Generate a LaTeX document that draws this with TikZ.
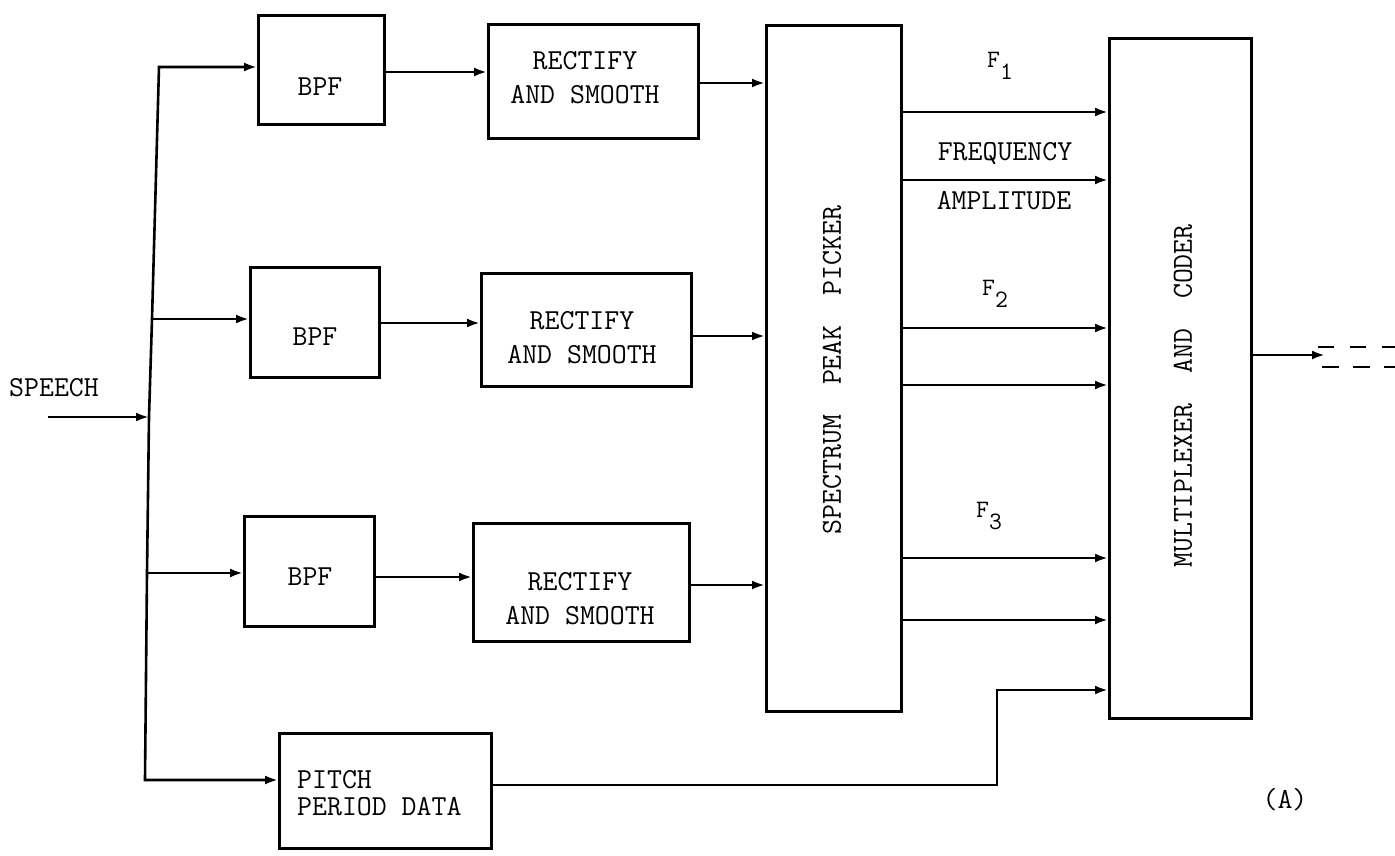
\documentclass[tikz,border=0pt]{standalone}
\usetikzlibrary{arrows.meta}
\begin{document}
\begin{tikzpicture}[x=1pt,y=-1pt,
  box/.style={draw, line width=2.6pt, inner sep=0pt, anchor=north west},
  conn/.style={line width=2.6pt, line join=miter, -{Latex[length=13pt,width=9pt]}},
  wire/.style={line width=2.6pt, line join=miter},
  lbl/.style={font=\fontsize{29}{34}\selectfont\ttfamily, inner sep=0pt},
  sub/.style={font=\fontsize{25}{30}\selectfont\ttfamily, inner sep=0pt},
  ]
\useasboundingbox (0,0) rectangle (1395,855);

% boxes
\node[box, minimum width=126pt, minimum height=109pt] (bpf1) at (257,14) {};
\node[box, minimum width=129pt, minimum height=110pt] (bpf2) at (249,266) {};
\node[box, minimum width=130pt, minimum height=110pt] (bpf3) at (243,515) {};
\node[box, minimum width=210pt, minimum height=114pt] (rect1) at (487,23) {};
\node[box, minimum width=210pt, minimum height=113pt] (rect2) at (480,272) {};
\node[box, minimum width=216pt, minimum height=118pt] (rect3) at (472,522) {};
\node[box, minimum width=135pt, minimum height=686pt] (spp) at (765,24) {};
\node[box, minimum width=142pt, minimum height=680pt] (mux) at (1108,37) {};
\node[box, minimum width=212pt, minimum height=115pt] (pitch) at (278,732) {};

% texts
\node[lbl] (tb1) at (320,87) {BPF};
\node[lbl] (tb2) at (315,337) {BPF};
\node[lbl] (tb3) at (310,577) {BPF};
\node[lbl, align=center] (tr1) at (585,78) {RECTIFY\\AND SMOOTH};
\node[lbl, align=center] (tr2) at (582,338) {RECTIFY\\AND SMOOTH};
\node[lbl, align=center] (tr3) at (580,599) {RECTIFY\\AND SMOOTH};
\node[lbl, rotate=90] (tspp) at (832,370) {SPECTRUM\ \ PEAK\ \ PICKER};
\node[lbl, rotate=90] (tmux) at (1183,396) {MULTIPLEXER\ \ AND\ \ CODER};
\node[lbl, align=left, anchor=west, font=\fontsize{29}{27}\selectfont\ttfamily] (tpitch) at (297,793) {PITCH\\PERIOD DATA};
\node[lbl] (tspeech) at (54,388) {SPEECH};
\node[lbl] (tfreq) at (1005,153) {FREQUENCY};
\node[lbl] (tamp) at (1004,201) {AMPLITUDE};
\node[sub] (tf1) at (1000,66) {F\raisebox{-12pt}{1}};
\node[sub] (tf2) at (995,294) {F\raisebox{-12pt}{2}};
\node[sub] (tf3) at (989,516) {F\raisebox{-12pt}{3}};
\node[lbl] (ta) at (1285,800) {(A)};

% bus
\coordinate (j1) at (159,67);
\coordinate (j2) at (152,319);
\coordinate (jS) at (149,417);
\coordinate (j3) at (147,573);
\coordinate (j4) at (145,780);
\coordinate (sp) at (48,417);
\draw[conn] (sp) -- (jS);
\draw[conn] (jS) -- (j2) -- (j1) -- (j1 -| bpf1.west);
\draw[conn] (j2) -- (j2 -| bpf2.west);
\draw[conn] (j3) -- (j3 -| bpf3.west);
\draw[conn] (jS) -- (j3) -- (j4) -- (j4 -| pitch.west);

% BPF -> rectify
\draw[conn] (bpf1.east |- 0,72) -- (rect1.west |- 0,72);
\draw[conn] (bpf2.east |- 0,323) -- (rect2.west |- 0,323);
\draw[conn] (bpf3.east |- 0,577) -- (rect3.west |- 0,577);

% rectify -> spectrum
\draw[conn] (rect1.east |- 0,83) -- (spp.west |- 0,83);
\draw[conn] (rect2.east |- 0,336) -- (spp.west |- 0,336);
\draw[conn] (rect3.east |- 0,585) -- (spp.west |- 0,585);

% spectrum -> mux
\foreach \yy in {112,180,328,385,558,620}
  \draw[conn] (spp.east |- 0,\yy) -- (mux.west |- 0,\yy);

% pitch -> mux
\coordinate (pk1) at (997,785);
\coordinate (pk2) at (997,690);
\draw[conn] (pitch.east |- pk1) -- (pk1) -- (pk2) -- (mux.west |- pk2);

% output
\coordinate (out) at (1325,355);
\draw[conn] (mux.east |- out) -- (out);
\coordinate (d1a) at (1318,347);
\coordinate (d1b) at (1395,347);
\coordinate (d2a) at (1322,367);
\coordinate (d2b) at (1395,367);
\draw[wire, dash pattern=on 16pt off 16pt] (d1a) -- (d1b);
\draw[wire, dash pattern=on 17pt off 14pt] (d2a) -- (d2b);
\end{tikzpicture}
\end{document}
